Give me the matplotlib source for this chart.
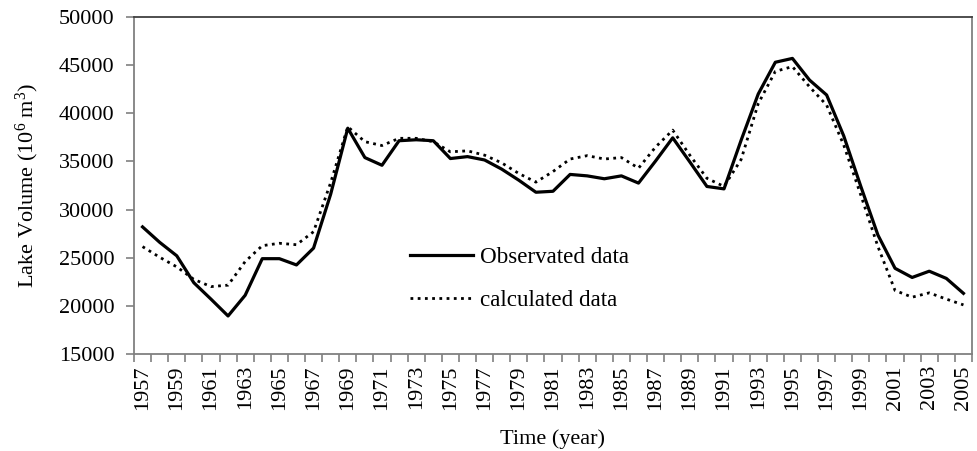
import matplotlib
import matplotlib.pyplot as plt
import numpy as np

matplotlib.use('Agg')

plt.rcParams['font.family'] = ['Liberation Serif', 'DejaVu Serif']
plt.rcParams['mathtext.default'] = 'regular'

years = list(range(1957, 2006))
observed = [28200, 26600, 25200, 22400, 20700, 18950, 21100, 24900, 24900, 24250,
            26000, 31600, 38450, 35400, 34600, 37150, 37250, 37150, 35300, 35500,
            35150, 34200, 33050, 31800, 31900, 33650, 33500, 33200, 33500, 32750,
            35050, 37450, 34950, 32400, 32150, 37200, 42000, 45300, 45700, 43450,
            41900, 37650, 32400, 27350, 23900, 22950, 23600, 22850, 21300]
calculated = [26150, 25050, 24050, 22750, 22000, 22150, 24600, 26250, 26500, 26350,
              27700, 32800, 38600, 37050, 36650, 37400, 37400, 37050, 36000, 36100,
              35650, 34850, 33750, 32850, 33950, 35250, 35600, 35250, 35400, 34300,
              36500, 38250, 35650, 33250, 32400, 35200, 41000, 44350, 44850, 42750,
              40850, 36700, 31500, 26150, 21600, 20900, 21350, 20700, 20100]
year_labels = [str(y) for y in years[::2]]

x = np.arange(len(years))

fig = plt.figure(figsize=(9.77, 4.51), dpi=100)
ax = fig.add_axes([134 / 977, 1 - 354 / 451, 838 / 977, 337 / 451])

ax.plot(x, observed, color='black', linewidth=2.3, label='Observated data')
ax.plot(x, calculated, color='black', linewidth=2.0, linestyle=(0, (1, 1.6)),
        label='calculated data')

ax.set_xlim(-0.5, len(years) - 0.5)
ax.set_ylim(15000, 50000)
ax.set_yticks(range(15000, 50001, 5000))

ax.set_xticks(x[::2])
ax.set_xticklabels(year_labels, rotation=90, fontsize=16)
ax.set_xticks(np.arange(-0.5, len(years), 1), minor=True)
ax.tick_params(axis='x', which='major', length=0, pad=8)
ax.tick_params(axis='x', which='minor', length=6, width=1.2, color='#808080',
               direction='out')
ax.tick_params(axis='y', length=6, width=1.2, color='#808080', labelsize=16, pad=8)

for name, sp in ax.spines.items():
    sp.set_color('#808080')
    sp.set_linewidth(1.3)
ax.spines['top'].set_color('#404040')

ax.set_ylabel('Lake Volume (10$^{6}$ m$^{3}$)', fontsize=16, labelpad=13)
ax.set_xlabel('Time (year)', fontsize=16, labelpad=14)

ax.legend(loc='center', bbox_to_anchor=(0.46, 0.222), frameon=False, fontsize=16.6,
          handlelength=2.7, handletextpad=0.3, labelspacing=0.95)

fig.savefig('out.png', dpi=100)
plt.close(fig)
